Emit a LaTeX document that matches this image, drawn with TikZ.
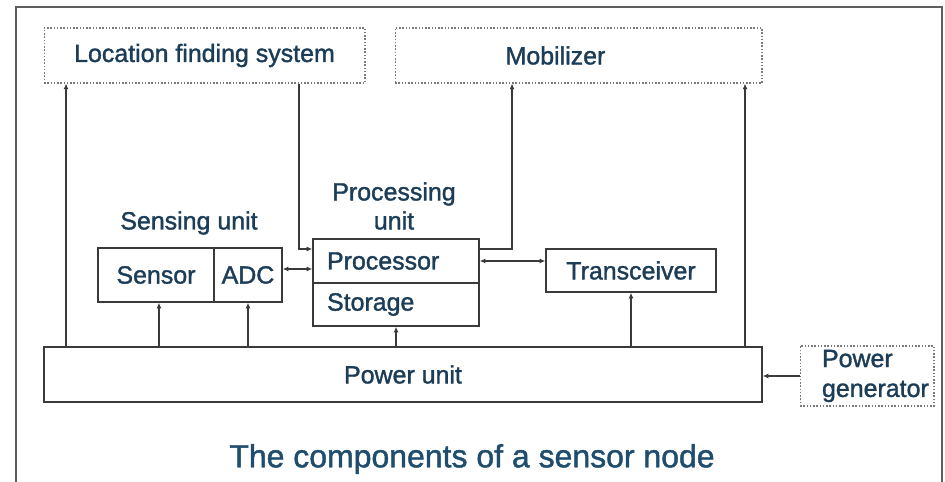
\documentclass[tikz,border=0pt]{standalone}
\usepackage{fontspec}
\setmainfont{Liberation Sans}[FakeBold=1.4]
\usetikzlibrary{arrows.meta,calc}
\definecolor{txtblue}{HTML}{1C3D57}
\definecolor{titleblue}{HTML}{1F4D6E}
\definecolor{linegray}{HTML}{3A3A3A}
\definecolor{dotgray}{HTML}{7A7A7A}
\definecolor{framegray}{HTML}{5E5E5E}

\begin{document}
\begin{tikzpicture}[x=0.02cm, y=-0.02cm, >={Latex[length=3.2pt,width=2.8pt]},
    box/.style={draw=linegray, line width=0.85pt, inner sep=0pt, text=txtblue, font=\fontsize{14.2}{17}\selectfont},
    dotbox/.style={box, draw=dotgray, densely dotted, line width=0.6pt},
    lbl/.style={text=txtblue, font=\fontsize{14.2}{16.5}\selectfont, align=center},
    wire/.style={draw=linegray, line width=0.6pt}]
    \useasboundingbox (0,0) rectangle (945,482);

    % Frame
    \draw [framegray, line width=1.1pt] (16,495) -- (16,7) -- (942,7) -- (942,495);

    % Optional units
    \node [dotbox, minimum width=6.42cm, minimum height=1.1cm] (lfs) at (204.5,55.5) {Location finding system};
    \node [dotbox, minimum width=7.34cm, minimum height=1.1cm,
           label={[lbl, xshift=-0.46cm]center:Mobilizer}] (mob) at (578.5,55.5) {};

    % Sensing unit
    \node [box, minimum width=2.32cm, minimum height=1.08cm] (sens) at (156,275) {Sensor};
    \node [box, minimum width=1.36cm, minimum height=1.08cm] (adc) at (248,275) {ADC};
    \node [lbl] (senslbl) at (189,223) {Sensing unit};

    % Processing unit
    \node [box, minimum height=0.88cm, text width=2.76cm, inner xsep=0.28cm, align=left] (proc) at (396,261) {Processor};
    \node [box, minimum height=0.86cm, text width=2.76cm, inner xsep=0.28cm, align=left] (stor) at (396,304.5) {Storage};
    \node [lbl] (proclbl) at (394,206) {Processing\\unit};

    % Transceiver
    \node [box, minimum width=3.4cm, minimum height=0.86cm] (trans) at (631,270.5) {Transceiver};

    % Power
    \node [box, minimum width=14.36cm, minimum height=1.1cm] (pow) at (403,374.5) {Power unit};
    \node [dotbox, minimum width=2.68cm, minimum height=1.2cm,
           label={[lbl, font=\fontsize{14.2}{17}\selectfont, text width=2.2cm, align=left, xshift=0.2cm]center:Power\\generator}] (gen) at (867,376) {};

    % Title
    \node [text=titleblue, font=\fontsize{18.2}{22}\selectfont] (title) at (472,459) {The components of a sensor node};

    % Connectors
    \coordinate (xl) at (66,0);
    \coordinate (xr) at (745,0);
    \coordinate (xs) at (159,0);
    \coordinate (la) at (299,249);
    \coordinate (lb) at (512,249);
    \coordinate (ya) at (0,269);
    \draw [wire, ->] (xl |- pow.north) -- (xl |- lfs.south);
    \draw [wire, ->] (xr |- pow.north) -- (xr |- mob.south);
    \draw [wire, ->] (la |- lfs.south) -- (la) -- (la -| proc.west);
    \draw [wire, ->] (lb -| proc.east) -- (lb) -- (lb |- mob.south);
    \draw [wire, <->] (adc.east |- ya) -- (proc.west |- ya);
    \draw [wire, <->] (proc.east) -- (proc.east -| trans.west);
    \draw [wire, ->] (xs |- pow.north) -- (xs |- sens.south);
    \draw [wire, ->] (adc.south |- pow.north) -- (adc.south);
    \draw [wire, ->] (stor.south |- pow.north) -- (stor.south);
    \draw [wire, ->] (trans.south |- pow.north) -- (trans.south);
    \draw [wire, ->] (gen.west) -- (gen.west -| pow.east);
\end{tikzpicture}
\end{document}
